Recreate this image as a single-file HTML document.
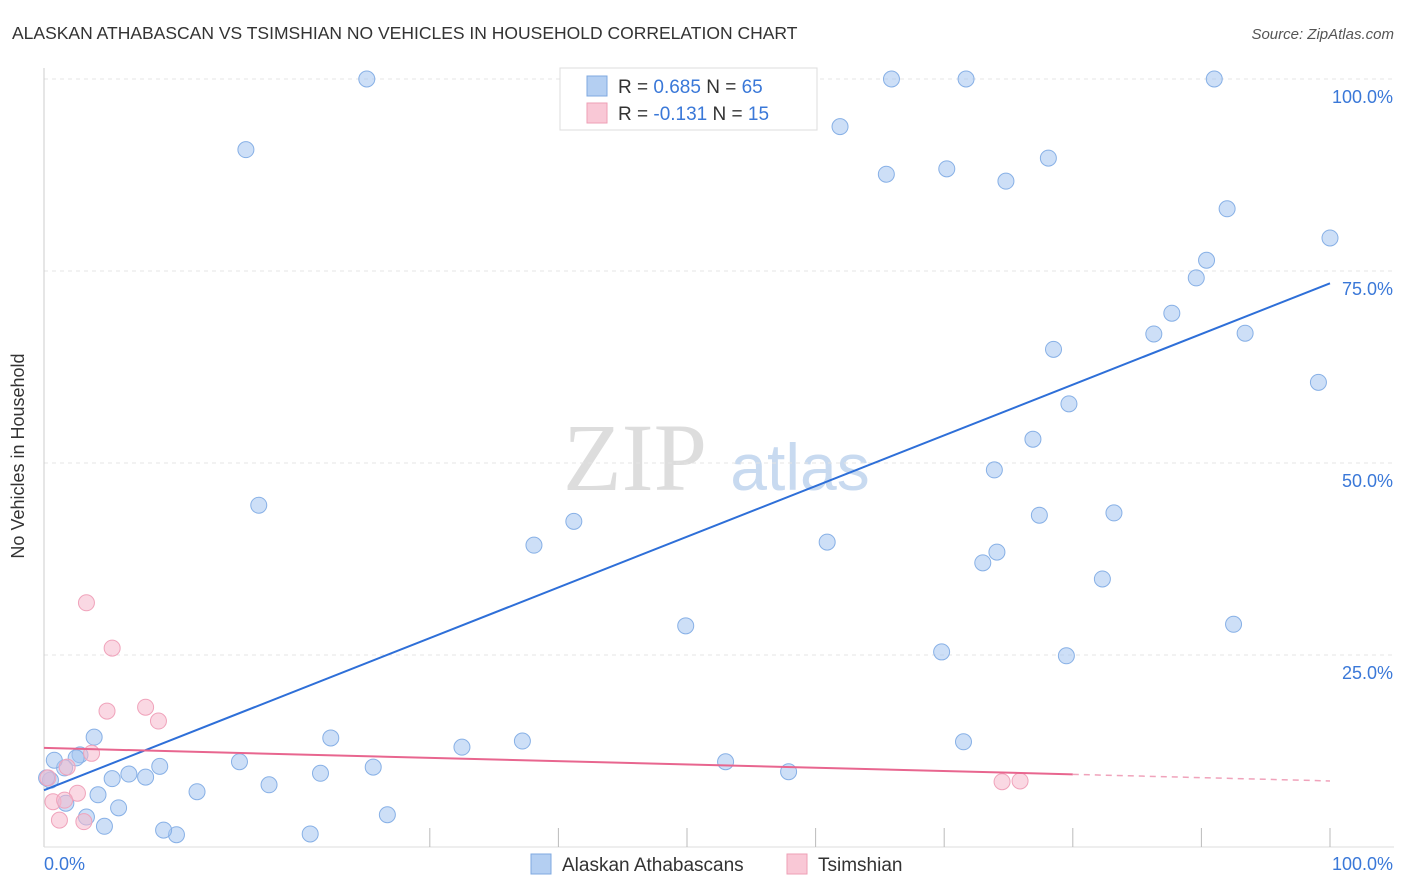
<!DOCTYPE html>
<html><head><meta charset="utf-8"><style>
body{margin:0;background:#fff;font-family:"Liberation Sans",sans-serif;}
#wrap{position:relative;width:1406px;height:892px;overflow:hidden;}
</style></head><body>
<div id="wrap">
<svg id="svg" width="1406" height="892" xmlns="http://www.w3.org/2000/svg">
<text x="12" y="39" font-size="17.5" fill="#333">ALASKAN ATHABASCAN VS TSIMSHIAN NO VEHICLES IN HOUSEHOLD CORRELATION CHART</text>
<text x="1394" y="39" font-size="15" fill="#555" text-anchor="end" font-style="italic">Source: ZipAtlas.com</text>
<text x="24" y="456" font-size="18" fill="#333" text-anchor="middle" transform="rotate(-90 24 456)">No Vehicles in Household</text>
<g>
<text x="635" y="490" font-size="96" fill="#ddd" font-family="Liberation Serif,serif" text-anchor="middle">ZIP</text>
<text x="800" y="490" font-size="66" fill="#c8daf0" text-anchor="middle">atlas</text>
</g>
<g id="grid"></g>
<g id="marks"></g>
<g>
<rect x="560" y="68" width="257" height="62" fill="#fff" stroke="#ddd"/>
<rect x="587" y="76" width="20" height="20" fill="#b4cff2" stroke="#7fa9e0"/>
<rect x="587" y="103" width="20" height="20" fill="#f9c8d6" stroke="#ee9fb6"/>
<text x="618" y="93" font-size="19" fill="#333">R = <tspan fill="#3a78d8">0.685</tspan>   N = <tspan fill="#3a78d8">65</tspan></text>
<text x="618" y="120" font-size="19" fill="#333">R = <tspan fill="#3a78d8">-0.131</tspan>   N = <tspan fill="#3a78d8"> 15</tspan></text>
</g>
<g>
<rect x="531" y="854" width="20" height="20" fill="#b4cff2" stroke="#7fa9e0"/>
<text x="562" y="871" font-size="19" fill="#333">Alaskan Athabascans</text>
<rect x="787" y="854" width="20" height="20" fill="#f9c8d6" stroke="#ee9fb6"/>
<text x="818" y="871" font-size="19" fill="#333">Tsimshian</text>
</g>
</svg>
</div>
<script>
const blueX=[25.1,15.7,16.7,38.1,41.2,49.9,60.9,61.9,65.5,65.9,70.2,71.7,74.8,78.1,91.0,92.0,100,90.4,89.6,87.7,86.3,93.4,99.1,78.5,79.7,76.9,73.9,77.4,83.2,74.1,73.0,82.3,92.5,69.8,79.5,71.5,53.0,57.9,37.2,32.5,25.6,22.3,21.5,26.7,20.7,17.5,15.2,11.9,10.3,9.3,9.0,7.9,6.6,5.3,5.8,4.7,3.9,4.2,3.3,2.8,2.5,1.7,1.6,0.8,0.5,0.2];
const blueY=[100,90.8,44.5,39.3,42.4,28.8,39.7,93.8,87.6,100,88.3,100,86.7,89.7,100,83.1,79.3,76.4,74.1,69.5,66.8,66.9,60.5,64.8,57.7,53.1,49.1,43.2,43.5,38.4,37.0,34.9,29.0,25.4,24.9,13.7,11.1,9.8,13.8,13.0,10.4,14.2,9.6,4.2,1.7,8.1,11.1,7.2,1.6,2.2,10.5,9.1,9.5,8.9,5.1,2.7,14.3,6.8,3.9,12.0,11.6,5.7,10.3,11.3,8.7,9.0];
const pinkX=[3.3,5.3,4.9,7.9,8.9,3.7,1.8,0.3,0.7,2.6,1.2,3.1,74.5,75.9,1.6];
const pinkY=[31.8,25.9,17.7,18.2,16.4,12.2,10.4,9.0,5.9,7.0,3.5,3.3,8.5,8.6,6.1];
const blueTrend=[7.4,73.4];
const pinkTrend=[12.9,8.6];
const pinkSolidEnd=[80];
const yTicks=[25,50,75,100];
const yTickLabels=["25.0%","50.0%","75.0%","100.0%"];
const xTicks=[30,40,50,60,70,80,90,100];
const xLabels=["0.0%","100.0%"];
const NS="http://www.w3.org/2000/svg";
const sx=v=>44+v*12.86, sy=v=>847-v*7.68;
function mk(t,a,p){const e=document.createElementNS(NS,t);for(const k in a)e.setAttribute(k,a[k]);p.appendChild(e);return e;}
const grid=document.getElementById('grid'),marks=document.getElementById('marks');
yTicks.forEach((v,i)=>{
 const l=mk('line',{x1:44,x2:1394,y1:sy(v),y2:sy(v),stroke:'#e4e4e4','stroke-dasharray':'4 4'},grid);
 
 
 const t=mk('text',{x:1393,y:sy(v)+24,'font-size':18,fill:'#3a78d8','text-anchor':'end'},grid);
 t.textContent=yTickLabels[i];
 
 
});
const ax=mk('line',{x1:44,x2:44,y1:68,y2:847,stroke:'#ccc'},grid);


const bx=mk('line',{x1:44,x2:1394,y1:847,y2:847,stroke:'#ddd'},grid);


xTicks.forEach(v=>{
 const l=mk('line',{x1:sx(v),x2:sx(v),y1:828,y2:847,stroke:'#bbb'},grid);
 
 
});
const xl0=mk('text',{x:44,y:870,'font-size':18,fill:'#3a78d8'},grid);xl0.textContent=xLabels[0];


const xl1=mk('text',{x:1393,y:870,'font-size':18,fill:'#3a78d8','text-anchor':'end'},grid);xl1.textContent=xLabels[1];


blueX.forEach((x,i)=>{
 const c=mk('circle',{cx:sx(x),cy:sy(blueY[i]),r:8,fill:'rgba(164,196,240,0.55)',stroke:'#87b0e6','stroke-width':1},marks);
 
 
});
pinkX.forEach((x,i)=>{
 const c=mk('circle',{cx:sx(x),cy:sy(pinkY[i]),r:8,fill:'rgba(246,184,204,0.55)',stroke:'#f0a3bb','stroke-width':1},marks);
 
 
});
const bl=mk('line',{x1:sx(0),y1:sy(blueTrend[0]),x2:sx(100),y2:sy(blueTrend[1]),stroke:'#2e6fd8','stroke-width':2},marks);


const pAt=x=>pinkTrend[0]+(pinkTrend[1]-pinkTrend[0])*x/100;
const pl=mk('line',{x1:sx(0),y1:sy(pAt(0)),x2:sx(pinkSolidEnd[0]),y2:sy(pAt(pinkSolidEnd[0])),stroke:'#e8668f','stroke-width':2},marks);


const pd=mk('line',{x1:sx(pinkSolidEnd[0]),y1:sy(pAt(pinkSolidEnd[0])),x2:sx(100),y2:sy(pAt(100)),stroke:'#f0a3bb','stroke-width':1.5,'stroke-dasharray':'6 5'},marks);


</script>
</body></html>
